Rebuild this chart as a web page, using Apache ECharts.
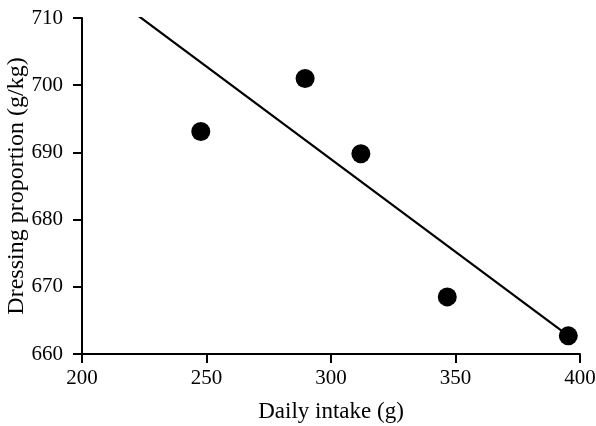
<!DOCTYPE html>
<html><head><meta charset="utf-8">
<script src="https://cdn.jsdelivr.net/npm/echarts@6/dist/echarts.min.js"></script>
<style>html,body{margin:0;padding:0;background:#fff}#c{width:596px;height:426px}</style>
</head><body><div id="c"></div>
<script>
const intake = [247.7, 289.6, 312.0, 346.7, 395.3];
const dressing = [693.1, 701.0, 689.8, 668.5, 662.7];
const fitX = [221.6, 394.3];
const fitY = [710.6, 663.0];
const xTicks = [200, 250, 300, 350, 400];
const yTicks = [660, 670, 680, 690, 700, 710];

const font = 'Liberation Serif';
const chart = echarts.init(document.getElementById('c'));
chart.setOption({
  animation: false,
  grid: {left: 82, right: 16, top: 18, bottom: 72, containLabel: false, outerBoundsMode: 'none'},
  xAxis: {
    type: 'value', min: xTicks[0], max: xTicks[xTicks.length-1], interval: 50,
    name: 'Daily intake (g)', nameLocation: 'middle', nameGap: 46, nameMoveOverlap: false,
    nameTextStyle: {fontFamily: font, fontSize: 23, color: '#000'},
    axisLine: {lineStyle: {color: '#000', width: 2}},
    axisTick: {show: true, inside: false, length: 9, lineStyle: {color: '#000', width: 2}},
    axisLabel: {fontFamily: font, fontSize: 21, color: '#000', margin: 14},
    splitLine: {show: false}
  },
  yAxis: {
    type: 'value', min: yTicks[0], max: yTicks[yTicks.length-1], interval: 10,
    name: 'Dressing proportion (g/kg)', nameLocation: 'middle', nameGap: 53, nameMoveOverlap: false,
    nameTextStyle: {fontFamily: font, fontSize: 24, color: '#000'},
    axisLine: {show: true, lineStyle: {color: '#000', width: 2}},
    axisTick: {show: true, inside: false, length: 9, lineStyle: {color: '#000', width: 2}},
    axisLabel: {fontFamily: font, fontSize: 21, color: '#000', margin: 19},
    splitLine: {show: false}
  },
  series: [
    {
      type: 'line', data: fitX.map((x, i) => [x, fitY[i]]),
      symbol: 'none', lineStyle: {color: '#000', width: 2.2}
    },
    {
      type: 'scatter', data: intake.map((x, i) => [x, dressing[i]]),
      symbol: 'circle', symbolSize: 19, itemStyle: {color: '#000', opacity: 1}
    }
  ]
});
</script></body></html>
